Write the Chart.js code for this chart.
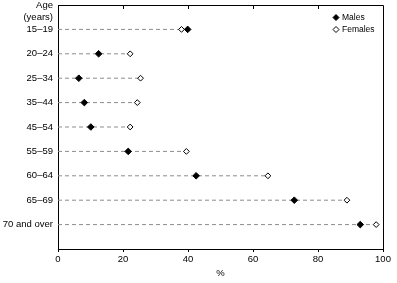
<!DOCTYPE html>
<html>
<head>
<meta charset="utf-8">
<script src="https://cdn.jsdelivr.net/npm/chart.js@4"></script>
<style>
html, body { margin: 0; padding: 0; background: #fff; }
#wrap { width: 397px; height: 283px; }
</style>
</head>
<body>
<div id="wrap"><canvas id="myChart"></canvas></div>
<script>
const ageGroups = ['15–19', '20–24', '25–34', '35–44', '45–54', '55–59', '60–64', '65–69', '70 and over'];
const males = [39.9, 12.5, 6.4, 8.1, 10.1, 21.6, 42.5, 72.7, 93.0];
const females = [38.0, 22.2, 25.4, 24.4, 22.2, 39.5, 64.6, 88.9, 97.9];
const headerLines = ['Age', '(years)'];
const xTickStep = 20;

const FONT = '"Liberation Sans", Arial, sans-serif';

// dashed guide from 0 to the larger of the two values
const guides = ageGroups.map((g, i) => ({
    label: 'guide',
    data: [{ x: 0, y: i }, { x: Math.max(males[i], females[i]), y: i }],
    showLine: true,
    borderColor: '#8c8c8c',
    borderWidth: 1,
    borderDash: [4, 3],
    pointRadius: 0,
    order: 3
}));

const maleSet = {
    label: 'Males',
    data: males.map((v, i) => ({ x: v, y: i })),
    pointStyle: 'rectRot',
    pointRadius: 3.3,
    backgroundColor: '#000',
    borderColor: '#000',
    borderWidth: 1,
    order: 0
};

const femaleSet = {
    label: 'Females',
    data: females.map((v, i) => ({ x: v, y: i })),
    pointStyle: 'rectRot',
    pointRadius: 2.9,
    backgroundColor: '#fff',
    borderColor: '#000',
    borderWidth: 1,
    order: 1
};

// box border, inward top ticks and the legend
const framePlugin = {
    id: 'frame',
    afterDatasetsDraw(chart) {
        const { ctx, chartArea: a, scales } = chart;
        ctx.save();
        ctx.strokeStyle = '#000';
        ctx.lineWidth = 1;
        ctx.beginPath();
        ctx.moveTo(a.left, a.top + 0.5);
        ctx.lineTo(a.right + 0.5, a.top + 0.5);
        ctx.lineTo(a.right + 0.5, a.bottom);
        scales.x.ticks.forEach(t => {
            if (t.value <= 0 || t.value >= 100) return;
            const px = Math.round(scales.x.getPixelForValue(t.value)) + 0.5;
            ctx.moveTo(px, a.top);
            ctx.lineTo(px, a.top + 4);
        });
        ctx.stroke();

        // legend
        const items = [maleSet, femaleSet];
        ctx.font = '8.5px ' + FONT;
        ctx.textBaseline = 'middle';
        items.forEach((ds, k) => {
            const y = a.top + 12.5 + k * 12;
            const x = a.right - 47;
            const r = 3;
            ctx.fillStyle = ds.backgroundColor;
            ctx.strokeStyle = '#000';
            ctx.beginPath();
            ctx.moveTo(x, y - r); ctx.lineTo(x + r, y); ctx.lineTo(x, y + r); ctx.lineTo(x - r, y); ctx.closePath();
            ctx.fill(); ctx.stroke();
            ctx.fillStyle = '#000';
            ctx.fillText(ds.label, x + 6, y);
        });
        ctx.restore();
    }
};

const config = {
    type: 'scatter',
    data: { datasets: [...guides, maleSet, femaleSet] },
    options: {
        responsive: true,
        maintainAspectRatio: false,
        animation: false,
        layout: { padding: { top: 4, right: 14, left: 0, bottom: 0 } },
        plugins: {
            legend: { display: false },
            tooltip: { enabled: false }
        },
        scales: {
            x: {
                type: 'linear',
                min: 0,
                max: 100,
                ticks: {
                    stepSize: xTickStep,
                    color: '#000',
                    padding: 2,
                    maxRotation: 0,
                    font: { family: FONT, size: 9.5 }
                },
                grid: { drawOnChartArea: false, drawTicks: true, tickLength: 3, color: '#000' },
                border: { display: true, color: '#000' },
                title: {
                    display: true,
                    text: '%',
                    color: '#000',
                    font: { family: FONT, size: 9.5 },
                    padding: { top: 0, bottom: 4 }
                },
                afterFit(scale) { scale.height = 34; }
            },
            y: {
                type: 'linear',
                reverse: true,
                min: -1,
                max: 9,
                afterBuildTicks(scale) {
                    const vals = [-1, -0.5].concat(ageGroups.map((g, i) => i));
                    scale.ticks = vals.map(v => ({ value: v }));
                },
                ticks: {
                    autoSkip: false,
                    color: '#000',
                    padding: 5,
                    font: { family: FONT, size: 9.5 },
                    callback(value) {
                        if (value === -1) return headerLines[0];
                        if (value === -0.5) return headerLines[1];
                        return ageGroups[value];
                    }
                },
                grid: { drawOnChartArea: false, drawTicks: false },
                border: { display: true, color: '#000' },
                afterFit(scale) {
                    scale.width = 58;
                    scale.paddingTop = 0;
                    scale.paddingBottom = 0;
                }
            }
        }
    },
    plugins: [framePlugin]
};

window.onload = function() {
    const ctx = document.getElementById('myChart').getContext('2d');
    new Chart(ctx, config);
};
</script>
</body>
</html>
